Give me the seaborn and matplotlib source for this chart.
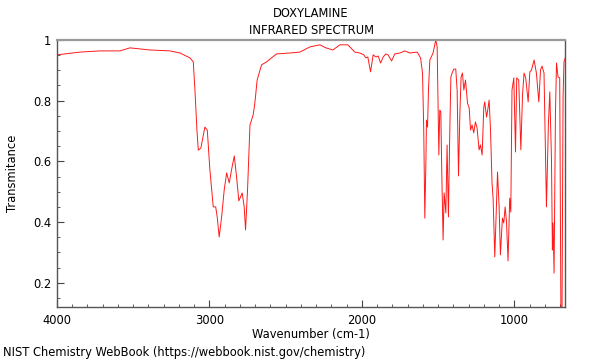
import numpy as np
import pandas as pd
import seaborn as sns
import matplotlib.pyplot as plt
from matplotlib.ticker import MultipleLocator, FormatStrFormatter

# IR spectrum (wavenumber in cm-1, transmittance)
wavenumber = [4000, 3849, 3718, 3587, 3521, 3390, 3259, 3193, 3128, 3106,
              3095, 3082, 3073, 3056, 3030, 3014, 2997, 2975, 2959, 2949,
              2936, 2920, 2903, 2887, 2870, 2855, 2837, 2822, 2807, 2785,
              2772, 2763, 2750, 2734, 2713, 2702, 2687, 2658, 2625, 2560,
              2472, 2407, 2341, 2276, 2236, 2190, 2144, 2092, 2046, 2013,
              1987, 1974, 1961, 1943, 1926, 1908, 1893, 1877, 1860, 1843,
              1828, 1805, 1784, 1751, 1718, 1685, 1637, 1615, 1602, 1594,
              1587, 1580, 1576, 1569, 1563, 1554, 1533, 1515, 1506, 1495,
              1489, 1482, 1476, 1467, 1460, 1449, 1441, 1432, 1423, 1416,
              1408, 1397, 1384, 1375, 1366, 1357, 1349, 1340, 1331, 1320,
              1307, 1296, 1287, 1277, 1266, 1255, 1244, 1231, 1222, 1211,
              1200, 1194, 1182, 1176, 1165, 1156, 1146, 1139, 1128, 1117,
              1110, 1100, 1091, 1078, 1069, 1060, 1051, 1041, 1030, 1023,
              1015, 1003, 992, 984, 971, 957, 946, 936, 925, 909,
              898, 887, 870, 855, 839, 828, 818, 805, 789, 776,
              767, 756, 750, 746, 739, 730, 723, 713, 702, 694,
              687, 680, 674, 666]
transmittance = [0.951, 0.960, 0.964, 0.964, 0.974, 0.967, 0.964, 0.957, 0.941, 0.928,
                 0.835, 0.703, 0.637, 0.644, 0.713, 0.703, 0.572, 0.450, 0.450, 0.417,
                 0.351, 0.417, 0.506, 0.562, 0.529, 0.572, 0.618, 0.549, 0.470, 0.496,
                 0.450, 0.374, 0.506, 0.720, 0.753, 0.792, 0.868, 0.918, 0.928, 0.954,
                 0.957, 0.960, 0.977, 0.984, 0.974, 0.967, 0.984, 0.984, 0.960, 0.957,
                 0.951, 0.941, 0.944, 0.895, 0.951, 0.944, 0.947, 0.924, 0.944, 0.954,
                 0.951, 0.931, 0.954, 0.957, 0.964, 0.957, 0.960, 0.941, 0.891, 0.703,
                 0.413, 0.595, 0.736, 0.713, 0.835, 0.934, 0.957, 1.000, 0.977, 0.621,
                 0.769, 0.763, 0.572, 0.341, 0.496, 0.430, 0.654, 0.417, 0.703, 0.878,
                 0.891, 0.904, 0.904, 0.835, 0.552, 0.759, 0.878, 0.891, 0.835, 0.868,
                 0.792, 0.776, 0.703, 0.720, 0.694, 0.730, 0.710, 0.638, 0.654, 0.621,
                 0.779, 0.796, 0.746, 0.763, 0.802, 0.703, 0.529, 0.479, 0.285, 0.456,
                 0.565, 0.456, 0.292, 0.413, 0.397, 0.450, 0.400, 0.272, 0.479, 0.433,
                 0.835, 0.875, 0.631, 0.875, 0.868, 0.638, 0.819, 0.891, 0.875, 0.796,
                 0.895, 0.901, 0.934, 0.891, 0.796, 0.901, 0.914, 0.891, 0.450, 0.727,
                 0.829, 0.605, 0.308, 0.397, 0.232, 0.759, 0.924, 0.878, 0.875, 0.08,
                 0.10, 0.812, 0.928, 0.941]

df = pd.DataFrame({'Wavenumber': wavenumber, 'Transmittance': transmittance})

sns.set_style('ticks')
plt.rcParams['font.family'] = ['DejaVu Sans']
plt.rcParams['text.color'] = 'black'
plt.rcParams['axes.labelcolor'] = 'black'
plt.rcParams['xtick.labelcolor'] = 'black'
plt.rcParams['ytick.labelcolor'] = 'black'

fig = plt.figure(figsize=(6, 3.6), dpi=100)
ax = fig.add_axes([0.095, 0.147, 0.847, 0.742])

sns.lineplot(data=df, x='Wavenumber', y='Transmittance', sort=False, estimator=None,
             color='red', linewidth=0.7, alpha=0.9, ax=ax)

ax.set_xlim(4000, 666)
ax.set_ylim(0.12, 1.0)
ax.xaxis.set_major_locator(MultipleLocator(1000))
ax.xaxis.set_minor_locator(MultipleLocator(100))
ax.yaxis.set_major_locator(MultipleLocator(0.2))
ax.yaxis.set_minor_locator(MultipleLocator(0.05))
ax.yaxis.set_major_formatter(FormatStrFormatter('%g'))
ax.tick_params(axis='both', which='major', direction='in', length=5, width=0.8,
               labelsize=8.3, color='#444444', labelcolor='black', pad=4,
               bottom=True, left=True, top=False, right=False)
ax.tick_params(axis='both', which='minor', direction='in', length=2.5, width=0.6,
               color='#444444', bottom=True, left=True, top=False, right=False)
ax.tick_params(axis='x', which='major', pad=5)

for side in ['left', 'bottom', 'right']:
    ax.spines[side].set_color('#555555')
    ax.spines[side].set_linewidth(1.0)
ax.spines['top'].set_color('#999999')
ax.spines['top'].set_linewidth(1.6)

ax.set_xlabel('Wavenumber (cm-1)', fontsize=8.3, labelpad=1, color='black')
ax.set_ylabel('Transmitance', fontsize=8.3, labelpad=10, color='black')
ax.set_title('DOXYLAMINE\nINFRARED SPECTRUM', fontsize=8.3, linespacing=1.4, pad=4,
             color='black')

fig.text(0.005, 0.022, 'NIST Chemistry WebBook (https://webbook.nist.gov/chemistry)',
         fontsize=8.3, ha='left', va='center', color='black')

plt.savefig('out.png', dpi=100)
plt.close()
